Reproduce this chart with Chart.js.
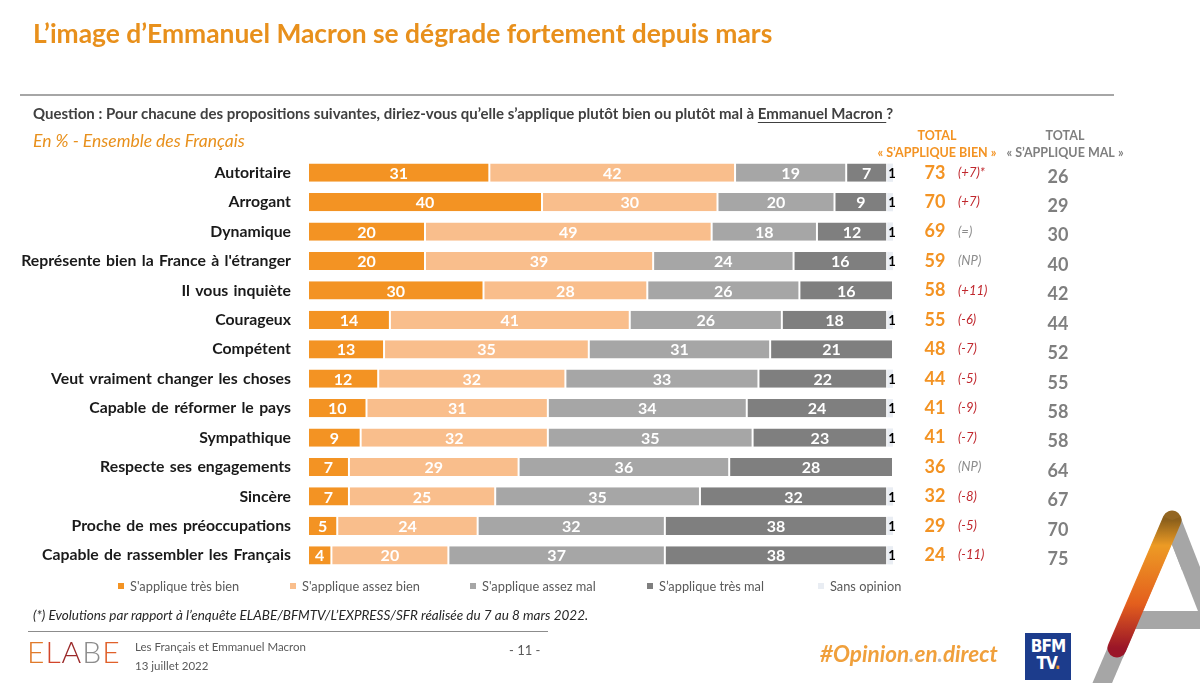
<!DOCTYPE html>
<html lang="fr">
<head>
<meta charset="utf-8">
<script src="https://cdn.jsdelivr.net/npm/chart.js@4.4.1/dist/chart.umd.min.js"></script>
<style>
  body { margin: 0; background: #fff; font-family: Lato, "Open Sans", sans-serif; }
  #wrap { position: relative; width: 1200px; height: 683px; overflow: hidden; }
  #chart { position: absolute; left: 0; top: 0; }
  .t { position: absolute; white-space: nowrap; line-height: 1; }
  #title { left: 33px; top: 20px; font-size: 26.4px; font-weight: 700; color: #e8901c; }
  #rule { position: absolute; left: 20px; top: 94px; width: 1094px; height: 2px; background: #a6a6a6; }
  #question { left: 33px; top: 106px; font-size: 15px; font-weight: 700; color: #404040; }
  #question u { text-underline-offset: 3px; }
  #sub { left: 33px; top: 132px; font-size: 17.5px; font-style: italic; color: #e8901c; }
  .legend { position: absolute; top: 578px; font-size: 12.8px; color: #595959; }
  .legend i { display: inline-block; width: 6px; height: 6px; margin-right: 6px; vertical-align: 2px; }
  #note { left: 33px; top: 609px; font-size: 13.5px; font-style: italic; color: #262626; }
  #noteRule { position: absolute; left: 28px; top: 631px; width: 520px; height: 1px; background: #8c8c8c; }
  #elabe { left: 27px; top: 636px; font-size: 30px; font-weight: 300; letter-spacing: 1px; }
  .foot { font-size: 11.5px; color: #595959; }
  #hashtag { left: 820px; top: 643px; font-size: 22.5px; font-weight: 700; font-style: italic; color: #f0a03c; }
  #bfm { position: absolute; left: 1025px; top: 633px; width: 46px; height: 47px; background: #1c3c8c;
         color: #fff; font: 900 17px/17px "DejaVu Sans Condensed", "DejaVu Sans", sans-serif; text-align: center; padding-top: 5px; box-sizing: border-box; letter-spacing: -1px; }
</style>
</head>
<body>
<div id="wrap">
  <canvas id="chart" width="1200" height="683"></canvas>
  <div class="t" id="title">L’image d’Emmanuel Macron se dégrade fortement depuis mars</div>
  <div id="rule"></div>
  <div class="t" id="question">Question : Pour chacune des propositions suivantes, diriez-vous qu’elle s’applique plutôt bien ou plutôt mal à <u>Emmanuel Macron </u>?</div>
  <div class="t" id="sub">En % - Ensemble des Français</div>
  <div id="legend"></div>
  <div class="t" id="note">(*) Evolutions par rapport à l’enquête ELABE/BFMTV/L’EXPRESS/SFR réalisée du 7 au 8 mars 2022.</div>
  <div id="noteRule"></div>
  <div class="t" id="elabe"><span style="color:#e07a2a">E</span><span style="color:#d2452a">L</span><span style="color:#9b2a2a">A</span><span style="color:#8c8c8c">B</span><span style="color:#e0602a">E</span></div>
  <div class="t foot" style="left:135px;top:641px">Les Français et Emmanuel Macron</div>
  <div class="t foot" style="left:135px;top:660px">13 juillet 2022</div>
  <div class="t foot" style="left:509px;top:644px;font-size:13px">- 11 -</div>
  <div class="t" id="hashtag">#Opinion<span style="color:#bbb">.</span>en<span style="color:#bbb">.</span>direct</div>
  <div id="bfm">BFM<br>TV<span style="color:#f39323">.</span></div>
  <svg style="position:absolute;left:1080px;top:480px" width="120" height="203">
    <defs>
      <linearGradient id="g" x1="0" y1="0" x2="0" y2="1">
        <stop offset="0" stop-color="#8a5a10"/>
        <stop offset="0.2" stop-color="#f39a1a"/>
        <stop offset="0.65" stop-color="#ea5a12"/>
        <stop offset="1" stop-color="#9a0a1e"/>
      </linearGradient>
    </defs>
    <g stroke="#a6a6a6" stroke-width="18" fill="none">
      <line x1="92" y1="40" x2="135" y2="150"/>
      <line x1="92" y1="40" x2="15" y2="220"/>
      <line x1="50" y1="140" x2="130" y2="140"/>
    </g>
    <line x1="92" y1="40" x2="37" y2="168" stroke="url(#g)" stroke-width="19" stroke-linecap="round" opacity="0.92"/>
  </svg>
</div>
<script>
const categories = [
  'Autoritaire', 'Arrogant', 'Dynamique', "Représente bien la France à l'étranger",
  'Il vous inquiète', 'Courageux', 'Compétent', 'Veut vraiment changer les choses',
  'Capable de réformer le pays', 'Sympathique', 'Respecte ses engagements', 'Sincère',
  'Proche de mes préoccupations', 'Capable de rassembler les Français'
];
const tresBien    = [31, 40, 20, 20, 30, 14, 13, 12, 10,  9,  7,  7,  5,  4];
const assezBien   = [42, 30, 49, 39, 28, 41, 35, 32, 31, 32, 29, 25, 24, 20];
const assezMal    = [19, 20, 18, 24, 26, 26, 31, 33, 34, 35, 36, 35, 32, 37];
const tresMal     = [ 7,  9, 12, 16, 16, 18, 21, 22, 24, 23, 28, 32, 38, 38];
const sansOpinion = [ 1,  1,  1,  1,  0,  1,  0,  1,  1,  1,  0,  1,  1,  1];
const totalBien = [73, 70, 69, 59, 58, 55, 48, 44, 41, 41, 36, 32, 29, 24];
const evolution = ['(+7)*', '(+7)', '(=)', '(NP)', '(+11)', '(-6)', '(-7)', '(-5)', '(-9)', '(-7)', '(NP)', '(-8)', '(-5)', '(-11)'];
const totalMal  = [26, 29, 30, 40, 42, 44, 52, 55, 58, 58, 64, 67, 70, 75];

const seriesNames = ["S'applique très bien", "S'applique assez bien", "S'applique assez mal", "S’applique très mal", 'Sans opinion'];
const colors = ['#f39323', '#f9be8c', '#a6a6a6', '#7f7f7f', '#e9edf3'];
const legendX = [118, 290, 470, 647, 818];

const FONT = 'Lato, "Open Sans", sans-serif';

// legende
const legend = document.getElementById('legend');
seriesNames.forEach((name, i) => {
  const d = document.createElement('div');
  d.className = 'legend';
  d.style.left = legendX[i] + 'px';
  d.innerHTML = `<i style="background:${colors[i]}"></i>${name}`;
  legend.appendChild(d);
});

// espacement des mots des libellés (plus proche de Calibri)
const spacing = {
  id: 'spacing',
  beforeDraw(chart) { chart.ctx.wordSpacing = '1.5px'; },
  afterDatasetsDraw(chart) { chart.ctx.wordSpacing = '0px'; }
};

// valeurs dans les barres
const barLabels = {
  id: 'barLabels',
  afterDatasetsDraw(chart) {
    const ctx = chart.ctx;
    ctx.save();
    ctx.textAlign = 'center';
    ctx.textBaseline = 'middle';
    chart.data.datasets.forEach((ds, di) => {
      chart.getDatasetMeta(di).data.forEach((bar, i) => {
        const v = ds.data[i];
        if (!v) return;
        if (di === 4) {
          ctx.fillStyle = '#000';
          ctx.font = 'bold 13px ' + FONT;
          ctx.fillText(v, bar.x - 1, bar.y + 1);
        } else {
          ctx.fillStyle = '#fff';
          ctx.font = 'bold 16px ' + FONT;
          ctx.fillText(v, (bar.x + bar.base) / 2, bar.y + 1);
        }
      });
    });
    ctx.restore();
  }
};

// colonnes de droite
const totals = {
  id: 'totals',
  afterDraw(chart) {
    const ctx = chart.ctx;
    const y = chart.scales.y;
    ctx.save();
    ctx.textBaseline = 'middle';
    ctx.textAlign = 'center';
    ctx.font = 'bold 12.5px ' + FONT;
    ctx.fillStyle = '#f39323';
    ctx.fillText('TOTAL', 937, 136);
    ctx.fillText('« S’APPLIQUE BIEN »', 937, 153);
    ctx.fillStyle = '#7f7f7f';
    ctx.fillText('TOTAL', 1065, 136);
    ctx.fillText('« S’APPLIQUE MAL »', 1065, 153);
    categories.forEach((c, i) => {
      const py = y.getPixelForValue(i);
      ctx.textAlign = 'center';
      ctx.font = 'bold 18px ' + FONT;
      ctx.fillStyle = '#f39323';
      ctx.fillText(totalBien[i], 935, py);
      ctx.fillStyle = '#7f7f7f';
      ctx.fillText(totalMal[i], 1058, py + 4);
      ctx.textAlign = 'left';
      ctx.font = 'italic 13px ' + FONT;
      const ev = evolution[i];
      ctx.fillStyle = (ev === '(=)' || ev === '(NP)') ? '#8c8c8c' : '#c0272d';
      ctx.fillText(ev, 958, py);
    });
    ctx.restore();
  }
};

const chart = new Chart(document.getElementById('chart'), {
  type: 'bar',
  data: {
    labels: categories,
    datasets: [tresBien, assezBien, assezMal, tresMal, sansOpinion].map((d, i) => ({
      label: seriesNames[i],
      data: d,
      backgroundColor: colors[i],
      borderColor: '#fff',
      borderWidth: i === 4 ? 0 : { left: 1, right: 1, top: 0, bottom: 0 },
      borderSkipped: false,
      barPercentage: 0.62,
      categoryPercentage: 1
    }))
  },
  options: {
    indexAxis: 'y',
    responsive: false,
    animation: false,
    layout: { padding: { left: 0, right: 307, top: 158, bottom: 113 } },
    plugins: { legend: { display: false }, tooltip: { enabled: false } },
    scales: {
      x: { stacked: true, min: 0, max: 100, display: false },
      y: {
        stacked: true,
        grid: { display: false },
        border: { display: false },
        afterFit(scale) { scale.width = 308; },
        ticks: {
          color: '#1a1a1a',
          padding: 9,
          font: { family: FONT, size: 15.8, weight: 'bold' }
        }
      }
    }
  },
  plugins: [spacing, barLabels, totals]
});
</script>
</body>
</html>
